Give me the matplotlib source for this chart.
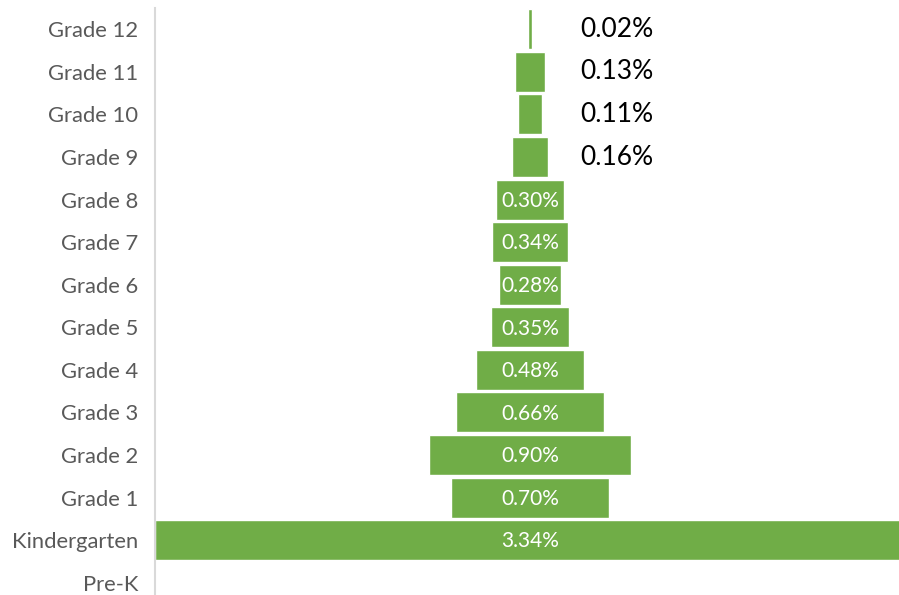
import matplotlib

matplotlib.use("Agg")
import matplotlib.pyplot as plt

grades = [
    "Pre-K",
    "Kindergarten",
    "Grade 1",
    "Grade 2",
    "Grade 3",
    "Grade 4",
    "Grade 5",
    "Grade 6",
    "Grade 7",
    "Grade 8",
    "Grade 9",
    "Grade 10",
    "Grade 11",
    "Grade 12",
]
shares = [0.0, 3.34, 0.70, 0.90, 0.66, 0.48, 0.35, 0.28, 0.34, 0.30, 0.16, 0.11, 0.13, 0.02]
outside = ["Grade 9", "Grade 10", "Grade 11", "Grade 12"]

plt.rcParams["font.family"] = ["Lato", "DejaVu Sans"]

green = "#70ad47"
x_max = max(shares)
center = x_max / 2

fig = plt.figure(figsize=(8.99, 5.95), dpi=100)
# the widest bar runs a few pixels past the right edge, as in the source
ax = fig.add_axes([155 / 899, -9 / 595, 750 / 899, 596 / 595])

ypos = list(range(len(grades)))
lefts = [center - s / 2 for s in shares]
ax.barh(ypos, shares, left=lefts, height=0.94, color=green,
        edgecolor="white", linewidth=1.0)

for y, g, s in zip(ypos, grades, shares):
    if s <= 0:
        continue
    label = f"{s:.2f}%"
    if g in outside:
        ax.text(1.893, y, label, ha="left", va="center", fontsize=19, color="black")
    else:
        ax.text(center, y - 0.03, label, ha="center", va="center", fontsize=15, color="white")

ax.set_xlim(0, x_max)
ax.set_ylim(-0.5, len(grades) - 0.5)
ax.set_yticks(ypos)
ax.set_yticklabels(grades, fontsize=15.8, color="#595959")
ax.tick_params(axis="y", length=0, pad=12)
ax.set_xticks([])
for side in ["top", "right", "bottom"]:
    ax.spines[side].set_visible(False)
ax.spines["left"].set_color("#d9d9d9")
ax.spines["left"].set_linewidth(1.5)

fig.savefig("out.png", dpi=100)
